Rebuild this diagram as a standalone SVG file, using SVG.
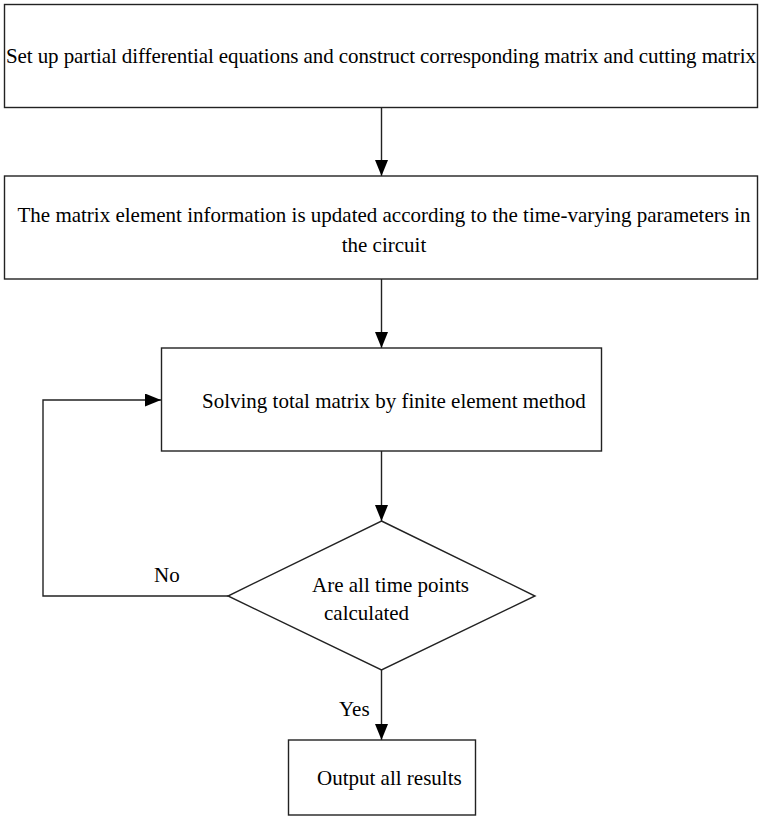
<svg xmlns="http://www.w3.org/2000/svg" width="759" height="816" viewBox="0 0 759 816">
<defs>
<style>
.box{fill:#fff;stroke:#222;stroke-width:1.4}
.ln{fill:none;stroke:#222;stroke-width:1.4}
.t{font-family:'Liberation Serif',serif;font-size:21px;fill:#000}
</style>
<marker id="ah" markerWidth="16" markerHeight="13" refX="16" refY="6.5" orient="auto" markerUnits="userSpaceOnUse">
<path d="M0,0 L16,6.5 L0,13 Z" fill="#000"/>
</marker>
</defs>
<rect width="759" height="816" fill="#fff"/>
<g id="connectors">
<line class="ln" x1="381.5" y1="107" x2="381.5" y2="176" marker-end="url(#ah)"/>
<line class="ln" x1="381.5" y1="279" x2="381.5" y2="348" marker-end="url(#ah)"/>
<line class="ln" x1="381.5" y1="451" x2="381.5" y2="521" marker-end="url(#ah)"/>
<line class="ln" x1="381.5" y1="670" x2="381.5" y2="740" marker-end="url(#ah)"/>
<polyline class="ln" points="228,596 43,596 43,400 161,400" marker-end="url(#ah)"/>
<text class="t" font-family="Liberation Serif, serif" x="154" y="582">No</text>
<text class="t" font-family="Liberation Serif, serif" x="339" y="716">Yes</text>
</g>
<g id="n1">
<rect class="box" x="4.5" y="4.5" width="753" height="103"/>
<text class="t" font-family="Liberation Serif, serif" x="6" y="63" textLength="750" lengthAdjust="spacing">Set up partial differential equations and construct corresponding matrix and cutting matrix</text>
</g>
<g id="n2">
<rect class="box" x="4.5" y="176" width="753" height="103"/>
<text class="t" font-family="Liberation Serif, serif" x="384" y="222" text-anchor="middle">The matrix element information is updated according to the time-varying parameters in</text>
<text class="t" font-family="Liberation Serif, serif" x="384" y="252" text-anchor="middle">the circuit</text>
</g>
<g id="n3">
<rect class="box" x="161.5" y="348" width="440" height="103"/>
<text class="t" font-family="Liberation Serif, serif" x="202" y="408">Solving total matrix by finite element method</text>
</g>
<g id="n4">
<polygon class="box" points="381.5,521 535,596 381.5,670 228,596"/>
<text class="t" font-family="Liberation Serif, serif" x="312" y="592">Are all time points</text>
<text class="t" font-family="Liberation Serif, serif" x="324" y="620">calculated</text>
</g>
<g id="n5">
<rect class="box" x="288.5" y="740" width="187" height="75"/>
<text class="t" font-family="Liberation Serif, serif" x="317" y="785">Output all results</text>
</g>
</svg>
